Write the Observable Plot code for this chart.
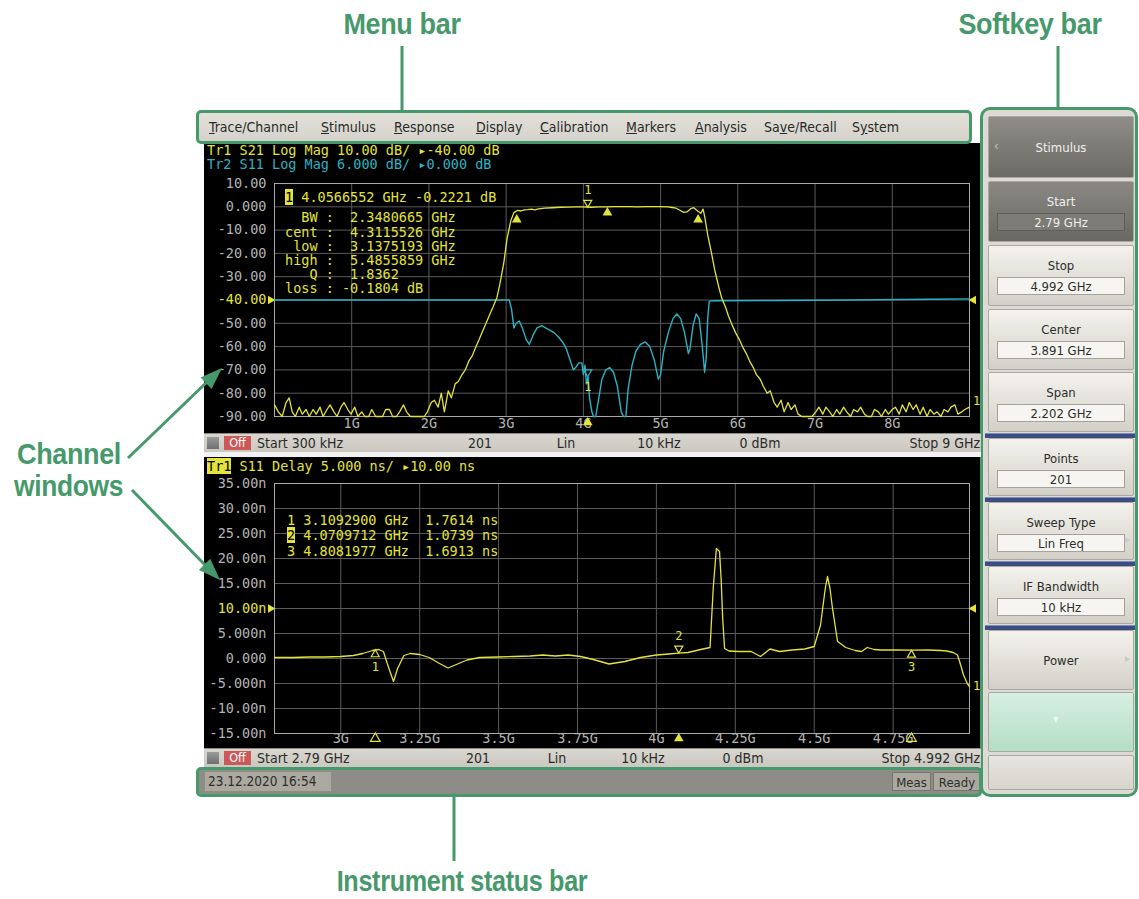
<!DOCTYPE html>
<html>
<head>
<meta charset="utf-8">
<script src="https://cdn.jsdelivr.net/npm/d3@7"></script>
<script src="https://cdn.jsdelivr.net/npm/@observablehq/plot@0.6"></script>
<style>
html,body{margin:0;padding:0;background:#fff}
#page{position:relative;width:1139px;height:899px;overflow:hidden;font-family:"DejaVu Sans Condensed","DejaVu Sans",sans-serif;font-stretch:condensed}
.a{position:absolute;white-space:pre}
.note{position:absolute;font-family:"Liberation Sans","Arial",sans-serif;font-weight:bold;color:#46996b;font-size:30px;line-height:30px;white-space:nowrap;letter-spacing:-0.4px;z-index:20}
.mono{position:absolute;font-family:"DejaVu Sans Mono",monospace;font-size:13.5px;line-height:13px;white-space:pre;z-index:5}
.bar{position:absolute;background:linear-gradient(#d8d6ce,#c9c7bf);overflow:hidden;font-size:14px;color:#2b2b2b}
.bar .t{position:absolute;top:1px;line-height:16px;white-space:pre}
.sk{position:absolute;left:988px;width:146px;box-sizing:border-box;border:1px solid #a9a79f;border-radius:2px;font-size:13px;text-align:center}
.vb{position:absolute;left:8px;right:8px;height:18px;line-height:17px;box-sizing:border-box}
svg{display:block}
</style>
</head>
<body>
<div id="page"></div>
<script>
// ---------------- DATA ----------------
const menuItems = ["Trace/Channel","Stimulus","Response","Display","Calibration","Markers","Analysis","Save/Recall","System"];
const menuUnderline = [0,0,0,0,0,0,0,2,1];

const softkeyLabels = ["Stimulus","Start","Stop","Center","Span","Points","Sweep Type","IF Bandwidth","Power"];
const softkeyValues = [null,"2.79 GHz","4.992 GHz","3.891 GHz","2.202 GHz","201","Lin Freq","10 kHz",null];

const topHeader1 = "Tr1 S21 Log Mag 10.00 dB/ \u25B8-40.00 dB";
const topHeader2 = "Tr2 S11 Log Mag 6.000 dB/ \u25B80.000 dB";
const botHeaderRest = " S11 Delay 5.000 ns/ \u25B810.00 ns";

const topMarkerLine = " 4.0566552 GHz -0.2221 dB";
const topStatsLines = ["  BW :  2.3480665 GHz","cent :  4.3115526 GHz"," low :  3.1375193 GHz","high :  5.4855859 GHz","   Q :  1.8362","loss : -0.1804 dB"];
const botMarkerLines = [["1"," 3.1092900 GHz  1.7614 ns"],["2"," 4.0709712 GHz  1.0739 ns"],["3"," 4.8081977 GHz  1.6913 ns"]];

const topChannelBar = ["Start 300 kHz","201","Lin","10 kHz","0 dBm","Stop 9 GHz"];
const botChannelBar = ["Start 2.79 GHz","201","Lin","10 kHz","0 dBm","Stop 4.992 GHz"];
const statusDate = "23.12.2020 16:54";
const statusRight = ["Meas","Ready"];

const xTicksTop = [1,2,3,4,5,6,7,8];
const yTicksTop = [10,0,-10,-20,-30,-40,-50,-60,-70,-80,-90];
const refTop = -40;
const xTicksBot = [3,3.25,3.5,3.75,4,4.25,4.5,4.75];
const yTicksBot = [35,30,25,20,15,10,5,0,-5,-10,-15];
const refBot = 10;

// Tr1 S21 (GHz, dB)
const s21 = [[0.0003,-85],[0.05,-88],[0.1,-90],[0.15,-84],[0.19,-82],[0.23,-88],[0.27,-90],[0.32,-86],[0.36,-89],[0.41,-87],[0.45,-90],[0.5,-87],[0.54,-89],[0.59,-86],[0.63,-90],[0.68,-87],[0.72,-85],[0.77,-88],[0.81,-90],[0.86,-86],[0.9,-84],[0.95,-87],[0.99,-89],[1.04,-86],[1.08,-90],[1.13,-88],[1.17,-90],[1.22,-90],[1.26,-87],[1.31,-90],[1.35,-90],[1.4,-90],[1.44,-87],[1.49,-87],[1.53,-90],[1.58,-90],[1.62,-88],[1.67,-85],[1.71,-88],[1.76,-90],[1.8,-90],[1.85,-90],[1.89,-90],[1.94,-90],[1.98,-88],[2.03,-84],[2.07,-83],[2.12,-86],[2.16,-80],[2.2,-88],[2.25,-79],[2.29,-82],[2.34,-76],[2.38,-75],[2.43,-72],[2.47,-70],[2.52,-66],[2.56,-64],[2.61,-60],[2.65,-57],[2.7,-53],[2.74,-50],[2.79,-46],[2.83,-43],[2.88,-39],[2.92,-33],[2.97,-24],[3.01,-14],[3.06,-6],[3.1,-2.5],[3.15,-1.5],[3.19,-1.8],[3.24,-1.3],[3.28,-1.2],[3.33,-1.0],[3.37,-1.3],[3.42,-0.9],[3.5,-0.6],[3.6,-0.4],[3.7,-0.2],[3.8,-0.1],[3.9,0],[4.0,0],[4.1,-0.2],[4.2,0],[4.3,0],[4.4,0.1],[4.5,0.1],[4.6,0.1],[4.7,0],[4.8,0.1],[4.9,0.1],[5.0,0.1],[5.1,0],[5.15,-0.3],[5.2,-0.6],[5.25,-1.5],[5.3,-2.4],[5.34,-2.2],[5.39,-0.8],[5.43,-0.4],[5.48,-1.8],[5.52,-2.8],[5.55,-1.0],[5.57,-4],[5.61,-12],[5.66,-20],[5.7,-27],[5.75,-34],[5.79,-39],[5.84,-43],[5.88,-47],[5.93,-51],[5.97,-54],[6.02,-57],[6.06,-60],[6.11,-63],[6.15,-66],[6.2,-69],[6.24,-72],[6.29,-74],[6.33,-77],[6.38,-80],[6.42,-79],[6.47,-84],[6.51,-86],[6.56,-83],[6.6,-88],[6.65,-84],[6.69,-87],[6.74,-85],[6.78,-89],[6.83,-90],[6.87,-90],[6.92,-90],[6.96,-90],[7.01,-88],[7.05,-86],[7.1,-89],[7.14,-86],[7.19,-88],[7.23,-90],[7.28,-87],[7.32,-89],[7.37,-86],[7.41,-88],[7.46,-90],[7.5,-87],[7.55,-88],[7.59,-86],[7.64,-89],[7.68,-90],[7.73,-90],[7.77,-87],[7.82,-88],[7.86,-90],[7.91,-87],[7.95,-89],[8.0,-87],[8.04,-86],[8.09,-89],[8.13,-85],[8.18,-88],[8.22,-84],[8.27,-87],[8.31,-85],[8.36,-89],[8.4,-86],[8.45,-90],[8.49,-87],[8.54,-89],[8.58,-88],[8.63,-90],[8.67,-87],[8.72,-88],[8.76,-86],[8.81,-85],[8.85,-89],[8.9,-88],[8.94,-87],[9.0,-86]];

// Tr2 S11 (GHz, dB)
const s11 = [[0.0003,-40],[1.5,-40],[3.04,-40],[3.07,-44],[3.1,-52],[3.13,-50],[3.17,-49],[3.21,-52],[3.26,-57],[3.3,-59],[3.35,-55],[3.4,-52],[3.46,-51],[3.51,-52],[3.57,-53],[3.62,-54],[3.68,-56],[3.73,-58],[3.78,-61],[3.83,-66],[3.87,-70],[3.9,-69],[3.94,-67],[3.98,-67],[4.0,-72],[4.02,-68],[4.04,-76],[4.06,-73],[4.08,-82],[4.11,-88],[4.13,-90],[4.16,-90],[4.2,-82],[4.24,-74],[4.29,-70],[4.34,-69],[4.39,-71],[4.44,-77],[4.49,-88],[4.52,-90],[4.55,-90],[4.58,-78],[4.63,-68],[4.68,-62],[4.74,-59],[4.8,-58],[4.86,-60],[4.92,-66],[4.97,-74],[5.0,-72],[5.04,-62],[5.1,-54],[5.16,-48],[5.21,-46],[5.26,-48],[5.31,-54],[5.36,-63],[5.38,-61],[5.42,-51],[5.46,-46],[5.5,-48],[5.54,-60],[5.57,-71],[5.59,-65],[5.61,-48],[5.63,-40.5],[5.7,-40.3],[6.5,-40.2],[7.5,-40],[8.5,-39.7],[9.0,-39.5]];

// Tr1 S11 group delay (GHz, ns)
const delay = [[2.79,0.2],[2.85,0.2],[2.9,0.3],[2.95,0.3],[3.0,0.4],[3.04,0.6],[3.07,1.0],[3.1,1.6],[3.12,1.8],[3.135,1.4],[3.15,-1.5],[3.167,-4.6],[3.18,-2.0],[3.2,0.6],[3.22,1.0],[3.25,0.8],[3.28,0.2],[3.31,-0.9],[3.34,-1.9],[3.37,-1.1],[3.4,-0.3],[3.44,0.2],[3.5,0.3],[3.55,0.4],[3.6,0.5],[3.64,0.7],[3.68,0.5],[3.72,0.7],[3.76,0.4],[3.8,-0.2],[3.85,-1.1],[3.9,-0.6],[3.95,0.2],[4.0,0.7],[4.04,0.9],[4.07,1.07],[4.1,1.2],[4.14,1.8],[4.17,2.2],[4.18,14],[4.19,22],[4.2,21.4],[4.205,16],[4.21,8],[4.216,2],[4.23,1.5],[4.26,1.4],[4.3,1.4],[4.33,0.4],[4.36,1.9],[4.39,1.4],[4.43,1.7],[4.47,1.9],[4.5,2.4],[4.52,6.7],[4.535,14],[4.542,16.4],[4.55,14],[4.558,10],[4.574,3.4],[4.6,2.2],[4.63,1.6],[4.65,1.4],[4.668,2.2],[4.69,1.8],[4.71,1.7],[4.76,1.7],[4.81,1.69],[4.86,1.7],[4.9,1.6],[4.92,1.5],[4.94,1.2],[4.954,0.7],[4.965,-1.5],[4.973,-3.3],[4.985,-5.0],[4.992,-5.6]];

const topMarkerTr1 = [{f:4.0566552, v:-0.2221, label:"1"}];
const topMarkerTr2 = [{f:4.0566552, v:-73, label:"1"}];
const topBwMarkers = [{f:3.1375193, v:-3.18},{f:4.3115526, v:-0.18},{f:5.4855859, v:-3.18}];
const botMarkers = [{f:3.10929, v:1.7614, label:"1", active:false},{f:4.0709712, v:1.0739, label:"2", active:true},{f:4.8081977, v:1.6913, label:"3", active:false}];

// ---------------- STYLE ----------------
const yellow = "#e3e33a", cyan = "#2ab3c4", gridC = "#5a5a5a", tickGray = "#b3b3b3", green = "#46996b";
const fmtDb = d => d === 0 ? "0.000" : d.toFixed(2);
const fmtNs = d => d === 0 ? "0.000" : (Math.abs(d) < 10 ? d.toFixed(3) : d.toFixed(2)) + "n";
const fx = d => d[0], fy = d => d[1];

const page = document.getElementById("page");
function add(parent, cls, css, text) {
  const d = document.createElement("div");
  if (cls) d.className = cls;
  d.style.cssText = css;
  if (text != null) d.textContent = text;
  parent.appendChild(d);
  return d;
}

// ---------------- INSTRUMENT FRAME ----------------
add(page, "", "position:absolute;left:204px;top:143px;width:777px;height:626px;background:#000");

add(page, "", `position:absolute;left:196px;top:110px;width:776px;height:34px;box-sizing:border-box;border:3px solid ${green};border-radius:5px;background:linear-gradient(#e2e0d9,#d4d2ca);z-index:3`);
const menuX = [209,321,394,476,540,626,695,764,852];
menuItems.forEach((m, i) => {
  const s = add(page, "a", `left:${menuX[i]}px;top:119px;font-size:14px;line-height:17px;color:#2a2a2a;z-index:4`);
  const k = menuUnderline[i];
  s.innerHTML = m.slice(0, k) + "<u>" + m[k] + "</u>" + m.slice(k + 1);
});

// ---------------- TOP CHART ----------------
const topPlot = Plot.plot({
  width: 776, height: 290,
  marginLeft: 70, marginRight: 11, marginTop: 40, marginBottom: 17,
  x: {domain: [s21[0][0], 9], label: null},
  y: {domain: [-90, 10], label: null},
  style: {background: "#000", color: tickGray, fontFamily: "'DejaVu Sans Mono', monospace", fontSize: "13.5px", overflow: "visible"},
  marks: [
    Plot.gridX(xTicksTop, {stroke: gridC, strokeOpacity: 1}),
    Plot.gridY(yTicksTop.slice(1, -1), {stroke: gridC, strokeOpacity: 1}),
    Plot.frame({stroke: "#a9a9a9"}),
    Plot.axisX(xTicksTop, {tickSize: 0, tickPadding: 2, tickFormat: d => d + "G", fill: tickGray}),
    Plot.axisY(yTicksTop.filter(d => d !== refTop), {tickSize: 0, tickPadding: 8, tickFormat: fmtDb, fill: tickGray}),
    Plot.axisY([refTop], {tickSize: 0, tickPadding: 8, tickFormat: fmtDb, fill: yellow}),
    Plot.dot([refTop], {y: d => d, frameAnchor: "left", dx: -4, symbol: "triangle", rotate: 90, r: 3.2, fill: yellow}),
    Plot.dot([refTop], {y: d => d, frameAnchor: "right", dx: 4, symbol: "triangle", rotate: -90, r: 3.2, fill: yellow}),
    Plot.line(s11, {x: fx, y: fy, stroke: cyan, strokeWidth: 1.4}),
    Plot.line(s21, {x: fx, y: fy, stroke: yellow, strokeWidth: 1.3}),
    Plot.dot(topBwMarkers, {x: "f", y: "v", symbol: "triangle", r: 3.6, dy: 5.5, fill: yellow}),
    Plot.dot(topMarkerTr1, {x: "f", y: "v", symbol: "triangle", rotate: 180, r: 3, dy: -4.7, fill: "none", stroke: yellow, strokeWidth: 1.2}),
    Plot.text(topMarkerTr1, {x: "f", y: "v", text: "label", dy: -17, fill: yellow, fontSize: 12}),
    Plot.dot(topMarkerTr2, {x: "f", y: "v", symbol: "triangle", rotate: 180, r: 3, dy: -4.7, fill: "none", stroke: cyan, strokeWidth: 1.2}),
    Plot.text(topMarkerTr2, {x: "f", y: "v", text: "label", dy: 10, fill: yellow, fontSize: 12}),
    Plot.dot(topMarkerTr1, {x: "f", frameAnchor: "bottom", dy: 6, symbol: "triangle", r: 3.6, fill: yellow}),
    Plot.text([s21[s21.length - 1]], {x: fx, y: fy, text: () => "1", dx: 7, dy: -6, fill: yellow, fontSize: 12})
  ]
});
const topWrap = add(page, "", "position:absolute;left:204px;top:143px;z-index:2");
topWrap.appendChild(topPlot);

add(page, "mono", `left:207px;top:144px;color:${yellow}`, topHeader1);
add(page, "mono", `left:207px;top:158px;color:${cyan}`, topHeader2);

const tml = add(page, "mono", `left:285px;top:191px;color:${yellow}`);
tml.innerHTML = `<span style="background:${yellow};color:#000">1</span>` + topMarkerLine;
const statTops = [211,226,240,254,268,282];
topStatsLines.forEach((l, i) => add(page, "mono", `left:285px;top:${statTops[i]}px;color:${yellow}`, l));

function channelBar(top, items, xs) {
  const b = add(page, "bar", `left:204px;top:${top}px;width:777px;height:19px;z-index:3;border-top:1px solid #8c8a84`);
  add(b, "", "position:absolute;left:3px;top:3px;width:12px;height:12px;background:linear-gradient(#9a9a9a,#6f6f6f)");
  add(b, "t", "left:20px;top:2px;width:27px;height:14px;background:#cc5858;color:#fff;text-align:center;line-height:14px;font-size:12.5px", "Off");
  items.forEach((t, i) => {
    const x = xs[i];
    if (i === 0) add(b, "t", `left:${x - 204}px`, t);
    else if (i === items.length - 1) add(b, "t", `right:${x}px`, t);
    else add(b, "t", `left:${x - 204}px;transform:translateX(-50%)`, t);
  });
}
channelBar(433, topChannelBar, [257,480,566,659,760,1]);

add(page, "", "position:absolute;left:204px;top:452px;width:777px;height:5px;background:#f2f2f2;z-index:3");

// ---------------- BOTTOM CHART ----------------
const botPlot = Plot.plot({
  width: 776, height: 291,
  marginLeft: 70, marginRight: 11, marginTop: 26, marginBottom: 15,
  x: {domain: [delay[0][0], delay[delay.length - 1][0]], label: null},
  y: {domain: [-15, 35], label: null},
  style: {background: "#000", color: tickGray, fontFamily: "'DejaVu Sans Mono', monospace", fontSize: "13.5px", overflow: "visible"},
  marks: [
    Plot.gridX(xTicksBot, {stroke: gridC, strokeOpacity: 1}),
    Plot.gridY(yTicksBot.slice(1, -1), {stroke: gridC, strokeOpacity: 1}),
    Plot.frame({stroke: "#a9a9a9"}),
    Plot.axisX(xTicksBot, {tickSize: 0, tickPadding: 0, tickFormat: d => d + "G", fill: tickGray}),
    Plot.axisY(yTicksBot.filter(d => d !== refBot), {tickSize: 0, tickPadding: 8, tickFormat: fmtNs, fill: tickGray}),
    Plot.axisY([refBot], {tickSize: 0, tickPadding: 8, tickFormat: fmtNs, fill: yellow}),
    Plot.dot([refBot], {y: d => d, frameAnchor: "left", dx: -4, symbol: "triangle", rotate: 90, r: 3.2, fill: yellow}),
    Plot.dot([refBot], {y: d => d, frameAnchor: "right", dx: 4, symbol: "triangle", rotate: -90, r: 3.2, fill: yellow}),
    Plot.line(delay, {x: fx, y: fy, stroke: yellow, strokeWidth: 1.3}),
    Plot.dot(botMarkers.filter(d => d.active), {x: "f", y: "v", symbol: "triangle", rotate: 180, r: 3, dy: -4.7, fill: "none", stroke: yellow, strokeWidth: 1.2}),
    Plot.text(botMarkers.filter(d => d.active), {x: "f", y: "v", text: "label", dy: -17, fill: yellow, fontSize: 12}),
    Plot.dot(botMarkers.filter(d => !d.active), {x: "f", y: "v", symbol: "triangle", r: 3, dy: 4.7, fill: "none", stroke: yellow, strokeWidth: 1.2}),
    Plot.text(botMarkers.filter(d => !d.active), {x: "f", y: "v", text: "label", dy: 17, fill: yellow, fontSize: 12}),
    Plot.dot(botMarkers.filter(d => d.active), {x: "f", frameAnchor: "bottom", dy: 5, symbol: "triangle", r: 3.6, fill: yellow}),
    Plot.dot(botMarkers.filter(d => !d.active), {x: "f", frameAnchor: "bottom", dy: 5, symbol: "triangle", r: 3.6, fill: "none", stroke: yellow, strokeWidth: 1.2}),
    Plot.text([delay[delay.length - 1]], {x: fx, y: fy, text: () => "1", dx: 7, fill: yellow, fontSize: 12})
  ]
});
const botWrap = add(page, "", "position:absolute;left:204px;top:457px;z-index:2");
botWrap.appendChild(botPlot);

const bh = add(page, "mono", `left:207px;top:460px;color:${yellow}`);
bh.innerHTML = `<span style="background:${yellow};color:#000">Tr1</span>` + botHeaderRest;
const bmTops = [514,529,545];
botMarkerLines.forEach((l, i) => {
  const d = add(page, "mono", `left:287px;top:${bmTops[i]}px;color:${yellow}`);
  d.innerHTML = (i === 1 ? `<span style="background:${yellow};color:#000">${l[0]}</span>` : l[0]) + l[1];
});

channelBar(748, botChannelBar, [257,478,557,643,743,1]);

const sb = add(page, "", `position:absolute;left:196px;top:767px;width:786px;height:30px;box-sizing:border-box;border:3px solid ${green};border-radius:5px;background:#8e8c86;z-index:4;overflow:hidden`);
add(sb, "a", "left:6px;top:2px;width:126px;height:19px;background:#aaa89f;color:#2e2e2e;font-size:13.5px;line-height:19px;padding-left:3px;box-sizing:border-box", statusDate);
add(sb, "a", "left:693px;top:2px;width:39px;height:19px;background:#aaa89f;color:#2e2e2e;font-size:13px;line-height:19px;text-align:center;border:1px solid #77756f;box-sizing:border-box", statusRight[0]);
add(sb, "a", "left:734px;top:2px;width:48px;height:19px;background:#aaa89f;color:#2e2e2e;font-size:13px;line-height:19px;text-align:center;border:1px solid #77756f;box-sizing:border-box", statusRight[1]);

// ---------------- SOFTKEY BAR ----------------
add(page, "", `position:absolute;left:980px;top:107px;width:158px;height:690px;box-sizing:border-box;border:3px solid ${green};border-radius:10px;background:#dcdad2`);
const skLayout = [
  {top:116,h:62,kind:"dark"},{top:181,h:61,kind:"dark2"},{top:245,h:61},{top:309,h:61},{top:372,h:60},
  {top:438,h:58},{top:502,h:58,arrow:true},{top:566,h:58},{top:630,h:60,arrow:true}
];
const seps = [433,497,561,625];
softkeyLabels.forEach((lab, i) => {
  const L = skLayout[i];
  let bg = "linear-gradient(#f3f2ed,#e0ded6 60%,#d2d0c8)", col = "#2d2d2d";
  if (L.kind === "dark") { bg = "linear-gradient(#8f8d87,#6c6a65)"; col = "#f0f0f0"; }
  if (L.kind === "dark2") { bg = "linear-gradient(#8a8882,#6a6863)"; col = "#f0f0f0"; }
  const b = add(page, "sk", `top:${L.top}px;height:${L.h}px;background:${bg};color:${col}`);
  const val = softkeyValues[i];
  if (val == null) {
    add(b, "", `position:absolute;left:0;right:0;top:${L.h / 2 - 9}px;line-height:18px`, lab);
  } else {
    add(b, "", "position:absolute;left:0;right:0;top:11px;line-height:18px", lab);
    add(b, "vb", `top:31px;` + (L.kind ? "background:#7d7b75;border:1px solid #5f5d58;color:#eee" : "background:#f6f5f1;border:1px solid #a4a29a;color:#2d2d2d"), val);
  }
  if (i === 0) add(b, "", "position:absolute;left:5px;top:21px;color:#c8c8c8;font-size:13px", "\u2039");
  if (L.arrow) add(b, "", `position:absolute;right:3px;top:${val == null ? L.h / 2 - 9 : 30}px;color:#c9c9c9;font-size:11px`, "\u25B8");
});
seps.forEach(y => add(page, "", `position:absolute;left:985px;top:${y}px;width:150px;height:4px;background:#3b4d85;border-top:1px solid #7a8ab5`));
add(page, "sk", "top:692px;height:60px;background:linear-gradient(#d6efe0,#b4dec6);color:#e8f4ec", "");
add(page, "a", "left:1053px;top:712px;color:#eef7f1;font-size:12px", "\u25BE");
add(page, "sk", "top:755px;height:35px;background:linear-gradient(#e6e5df,#d6d4cc)", "");

// ---------------- ANNOTATIONS ----------------
add(page, "note", "left:402px;top:9px;transform:translateX(-50%) scaleX(0.9)", "Menu bar");
add(page, "note", "left:1030px;top:9px;transform:translateX(-50%) scaleX(0.9)", "Softkey bar");
add(page, "note", "left:17px;top:439px;transform-origin:0 0;transform:scaleX(0.9)", "Channel");
add(page, "note", "left:14px;top:471px;transform-origin:0 0;transform:scaleX(0.88)", "windows");
add(page, "note", "left:462px;top:866px;transform:translateX(-50%) scaleX(0.84)", "Instrument status bar");

const ns = "http://www.w3.org/2000/svg";
const ov = document.createElementNS(ns, "svg");
ov.setAttribute("width", 1139); ov.setAttribute("height", 899);
ov.style.cssText = "position:absolute;left:0;top:0;z-index:30;pointer-events:none";
ov.innerHTML = `
<g stroke="${green}" stroke-width="3" fill="none">
<line x1="402" y1="46" x2="402" y2="110"/>
<line x1="1058" y1="46" x2="1058" y2="107"/>
<line x1="454" y1="797" x2="454" y2="861"/>
<line x1="128" y1="458" x2="207" y2="382"/>
<line x1="132" y1="490" x2="206" y2="566"/>
</g>
<g fill="${green}">
<polygon points="222,368 211.6,389 200.6,377.4"/>
<polygon points="220,580 198.9,569.9 210.3,558.7"/>
</g>`;
page.appendChild(ov);
</script>
</body>
</html>
